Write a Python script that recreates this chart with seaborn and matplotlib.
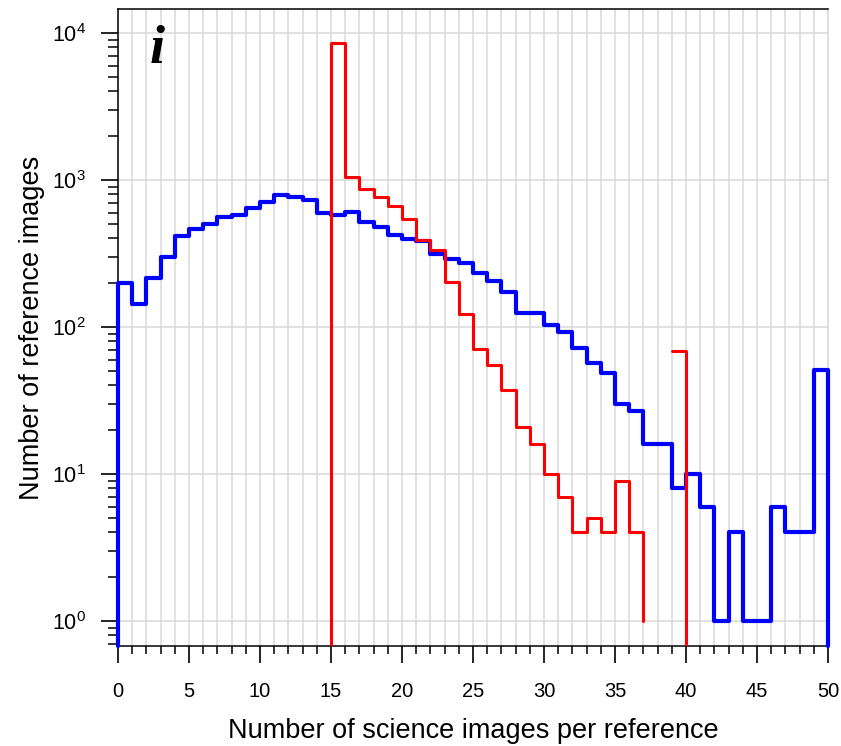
import numpy as np
import pandas as pd
import matplotlib
matplotlib.use("Agg")
import matplotlib.pyplot as plt
import seaborn as sns
from matplotlib.ticker import LogLocator, MultipleLocator, NullFormatter

# Histogram counts per unit-width bin (left edges)
blue_edges = list(range(0, 50))
blue_counts = [198, 143, 214, 298, 418, 462, 502, 562, 580, 645,
               708, 787, 766, 735, 600, 578, 609, 515, 476, 420,
               395, 385, 314, 289, 274, 232, 206, 174, 124, 124,
               103, 92, 72, 57, 49, 30, 27, 16, 16, 8,
               10, 6, 1, 4, 1, 1, 6, 4, 4, 51]

red_edges = list(range(15, 37))
red_counts = [8500, 1040, 869, 769, 665, 543, 390, 335, 203, 122,
              71, 55, 37, 21, 16, 10, 7, 4, 5, 4, 9, 4]
red_tail_x, red_tail_count = 37, 1
red_extra_x, red_extra_count = 39, 69

x_ticks = [0, 5, 10, 15, 20, 25, 30, 35, 40, 45, 50]
y_min, y_max = 0.676, 14560
baseline = y_min

sns.set_style("ticks")
plt.rcParams["font.family"] = ["Liberation Sans", "DejaVu Sans"]
plt.rcParams["mathtext.fontset"] = "custom"
plt.rcParams["mathtext.rm"] = "Liberation Sans"
plt.rcParams["mathtext.it"] = "Liberation Sans:italic"
plt.rcParams["mathtext.default"] = "regular"
plt.rcParams["text.color"] = "black"
plt.rcParams["axes.labelcolor"] = "black"
plt.rcParams["xtick.color"] = "black"
plt.rcParams["ytick.color"] = "black"

# Step paths: rise from the baseline at the first edge, fall back at the end
blue_df = pd.DataFrame({
    "x": [blue_edges[0]] + blue_edges + [blue_edges[-1] + 1],
    "y": [baseline] + blue_counts + [baseline],
})
red_df = pd.DataFrame({
    "x": [red_edges[0]] + red_edges + [red_tail_x] + [red_extra_x, red_extra_x + 1],
    "y": [baseline] + red_counts + [red_tail_count] + [red_extra_count, baseline],
    "seg": [0] * (len(red_edges) + 2) + [1, 1],
})

fig = plt.figure(figsize=(8.41, 7.46), dpi=100)
ax = fig.add_axes([118 / 841, 1 - 646 / 746, 710 / 841, 637 / 746])

grid_col = "#d8d8d8"
for xv in range(0, 51):
    ax.axvline(xv, color=grid_col, lw=1.1, zorder=0)
for yv in [1, 10, 100, 1000, 10000]:
    ax.axhline(yv, color=grid_col, lw=1.1, zorder=0)

sns.lineplot(data=blue_df, x="x", y="y", sort=False, estimator=None,
             drawstyle="steps-post", color="#0000ff", lw=3.0, ax=ax, zorder=3,
             clip_on=False)
sns.lineplot(data=red_df, x="x", y="y", units="seg", sort=False, estimator=None,
             drawstyle="steps-post", color="#ff0000", lw=2.2, ax=ax, zorder=4)

ax.set_yscale("log")
ax.set_xlim(0, 50)
ax.set_ylim(y_min, y_max)

ax.set_xticks(x_ticks)
ax.set_xticklabels([str(t) for t in x_ticks])
ax.xaxis.set_minor_locator(MultipleLocator(1))
ax.yaxis.set_major_locator(LogLocator(base=10, numticks=10))
ax.yaxis.set_minor_locator(LogLocator(base=10, subs=np.arange(2, 10), numticks=20))
ax.yaxis.set_minor_formatter(NullFormatter())

ax.tick_params(axis="x", which="major", direction="out", length=12, width=1.2,
               pad=14, labelsize=14.5, colors="black")
ax.tick_params(axis="x", which="minor", direction="out", length=6, width=1.1,
               colors="black")
ax.tick_params(axis="y", which="major", direction="out", length=12, width=1.2,
               pad=11, labelsize=15.5, colors="black")
ax.tick_params(axis="y", which="minor", direction="out", length=7, width=1.1,
               colors="black")

for side in ["left", "bottom", "top"]:
    ax.spines[side].set_color("black")
    ax.spines[side].set_linewidth(1.1)
    ax.spines[side].set_visible(True)
ax.spines["right"].set_visible(True)
ax.spines["right"].set_color(grid_col)
ax.spines["right"].set_linewidth(1.1)

ax.set_xlabel("Number of science images per reference", fontsize=19.5,
              labelpad=12, color="black")
ax.set_ylabel("Number of reference images", fontsize=19.5, labelpad=5,
              color="black")

ax.text(0.055, 0.975, "i", transform=ax.transAxes, ha="center", va="top",
        fontsize=39, fontweight="bold", fontstyle="italic", color="black",
        family=["Liberation Serif", "DejaVu Serif"])

fig.savefig("out.png", dpi=100)
